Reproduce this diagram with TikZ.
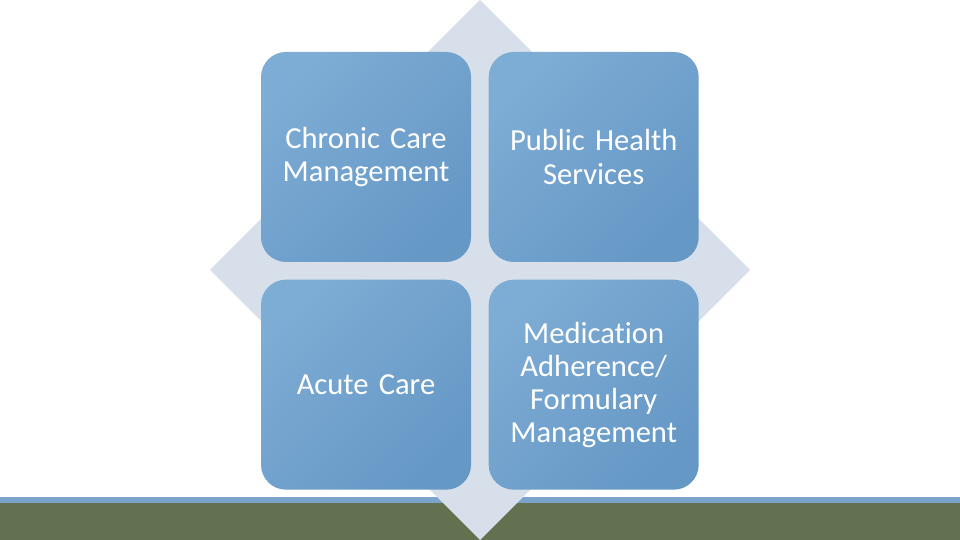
\documentclass[tikz,border=0pt]{standalone}
\usepackage{fontspec}
\setmainfont{Carlito}[Ligatures=NoCommon]
\usetikzlibrary{positioning}
\definecolor{diamondgrey}{HTML}{D6DFEA}
\definecolor{boxlight}{HTML}{7DACD4}
\definecolor{boxdark}{HTML}{6698C6}
\definecolor{stripblue}{HTML}{7BA3CC}
\definecolor{stripgreen}{HTML}{637150}
\tikzset{
  tile/.style={rectangle, rounded corners=0.5cm, minimum width=4.2cm,
    minimum height=4.2cm, text width=3.9cm, align=center, text=white,
    shading=axis, left color=boxlight, right color=boxdark, shading angle=45,
    font=\fontsize{17.4}{18.8}\selectfont, inner sep=0pt}
}
\begin{document}
\begin{tikzpicture}
	\useasboundingbox (0,0) rectangle (19.2,10.8);
	% Bottom strip
	\fill[stripgreen] (0,0) rectangle (19.2,0.74);
	\fill[stripblue] (0,0.74) rectangle (19.2,0.86);
	% Diamond behind the tiles
	\fill[diamondgrey] (9.6,10.8) -- (15,5.4) -- (9.6,0) -- (4.2,5.4) -- cycle;
	% Tiles
	\node[tile] (chronic) at (7.32,7.66) {Chronic Care Management};
	\node[tile, right=0.34cm of chronic] (public) {Public Health Services};
	\node[tile, below=0.34cm of chronic] (acute) {Acute Care};
	\node[tile, right=0.34cm of acute] (medication) {Medication Adherence/ Formulary Management};
\end{tikzpicture}
\end{document}
